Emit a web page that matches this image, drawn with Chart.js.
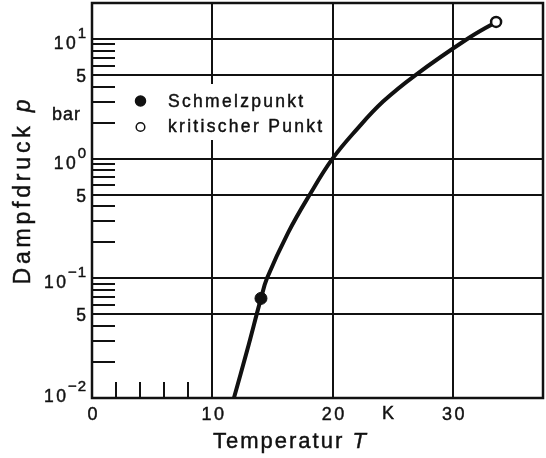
<!DOCTYPE html>
<html>
<head>
<meta charset="utf-8">
<script src="https://cdn.jsdelivr.net/npm/chart.js@4.4.0/dist/chart.umd.min.js"></script>
<style>
  html, body { margin: 0; padding: 0; background: #fff; }
  #wrap { width: 546px; height: 458px; }
</style>
</head>
<body>
<div id="wrap"><canvas id="dampfChart" width="546" height="458"></canvas></div>
<script>
// Dampfdruckkurve, Werte
const temperatur = [11.8, 12.9, 14.05, 14.55, 16.3, 18.1, 20.0, 22.0, 24.2, 26.9, 31.2, 33.6];
const dampfdruck = [0.01, 0.025, 0.068, 0.1, 0.24, 0.5, 1.0, 1.75, 3.0, 5.0, 10.0, 13.9];

const schmelzpunkt = { T: 14.05, p: 0.068 };
const kritischerPunkt = { T: 33.6, p: 13.9 };

// Achsen
const xTicks = [0, 10, 20, 30];
const xTickLabels = ["0", "10", "20", "30"];
const xMinorTicks = [2, 4, 6, 8];
const yTicks = [0.01, 0.05, 0.1, 0.5, 1, 5, 10];
const yTickLabels = [["10", "\u22122"], ["5", ""], ["10", "\u22121"], ["5", ""], ["10", "0"], ["5", ""], ["10", "1"]];
const yMinorTicks = [0.02, 0.03, 0.04, 0.06, 0.07, 0.08, 0.09,
                     0.2, 0.3, 0.4, 0.6, 0.7, 0.8, 0.9,
                     2, 3, 4, 6, 7, 8, 9];

const INK = "#111";
const FONT = "'Liberation Sans', Arial, sans-serif";

// text with letter spacing and a thin outline (medium weight), returns ink width
function drawText(ctx, str, x, y, font, spacing, align) {
    ctx.font = font;
    ctx.letterSpacing = spacing + "px";
    const w = ctx.measureText(str).width - spacing;
    let x0 = x;
    if (align === "right") x0 = x - w;
    if (align === "center") x0 = x - w / 2;
    ctx.textAlign = "left";
    ctx.fillText(str, x0, y);
    ctx.lineWidth = 0.45;
    ctx.strokeStyle = ctx.fillStyle;
    ctx.strokeText(str, x0, y);
    return w;
}

function measure(ctx, str, font, spacing) {
    ctx.font = font;
    ctx.letterSpacing = spacing + "px";
    return ctx.measureText(str).width;
}

// frame + inner minor ticks
const framePlugin = {
    id: "frame",
    beforeDatasetsDraw(chart) {
        const ctx = chart.ctx;
        const a = chart.chartArea;
        const xs = chart.scales.x, ys = chart.scales.y;
        ctx.save();
        ctx.strokeStyle = INK;
        ctx.lineWidth = 2;
        ctx.beginPath();
        yMinorTicks.forEach(v => {
            const py = Math.round(ys.getPixelForValue(v));
            ctx.moveTo(a.left, py);
            ctx.lineTo(a.left + 23, py);
        });
        xMinorTicks.forEach(v => {
            const px = Math.round(xs.getPixelForValue(v));
            ctx.moveTo(px, a.bottom);
            ctx.lineTo(px, a.bottom - 16);
        });
        ctx.stroke();
        ctx.lineWidth = 2.5;
        ctx.strokeRect(a.left, a.top, a.right - a.left, a.bottom - a.top);
        ctx.restore();
    }
};

// labels, titles, legend
const textPlugin = {
    id: "texts",
    afterDraw(chart) {
        const ctx = chart.ctx;
        const a = chart.chartArea;
        const xs = chart.scales.x, ys = chart.scales.y;
        ctx.save();
        ctx.fillStyle = INK;
        ctx.textBaseline = "alphabetic";

        // y tick labels
        const baseFont = "17.5px " + FONT;
        const supFont = "15px " + FONT;
        yTicks.forEach((v, i) => {
            const py = ys.getPixelForValue(v);
            const [base, sup] = yTickLabels[i];
            const right = a.left - 6;
            if (sup) {
                const low = (v === ys.min) ? -6 : 0;
                const sw = drawText(ctx, sup, right, py - 1 + low, supFont, 1, "right");
                drawText(ctx, base, right - sw - 2, py + 10 + low, baseFont, 2.5, "right");
            } else {
                drawText(ctx, base, right, py + 7, baseFont, 0, "right");
            }
        });

        // x tick labels
        xTicks.forEach((v, i) => {
            const px = xs.getPixelForValue(v);
            drawText(ctx, xTickLabels[i], px + 0.5, a.bottom + 22, "18px " + FONT, 2.5, "center");
        });

        // units
        drawText(ctx, "K", 388, a.bottom + 21, "18px " + FONT, 0, "center");
        drawText(ctx, "bar", 52, 120, "18px " + FONT, 1, "left");

        // x title
        const tFont = "22px " + FONT;
        const tItal = "italic 22px " + FONT;
        let x0 = 213;
        x0 += drawText(ctx, "Temperatur ", x0, 448, tFont, 2, "left") + 2;
        drawText(ctx, "T", x0, 448, tItal, 0, "left");

        // y title
        ctx.save();
        ctx.translate(30, 192);
        ctx.rotate(-Math.PI / 2);
        const yFont = "23px " + FONT;
        const yItal = "italic 23px " + FONT;
        const w1 = measure(ctx, "Dampfdruck ", yFont, 3.8);
        const w2 = measure(ctx, "p", yItal, 0);
        const start = -(w1 + w2) / 2;
        drawText(ctx, "Dampfdruck ", start, 0, yFont, 3.8, "left");
        drawText(ctx, "p", start + w1, 0, yItal, 0, "left");
        ctx.restore();

        // legend
        ctx.fillStyle = "#fff";
        ctx.fillRect(122, 84, 206, 56);
        const ds = chart.data.datasets;
        const rows = [[ds[1], 101, 107], [ds[2], 127, 132]];
        rows.forEach(([d, cy, base]) => {
            ctx.beginPath();
            ctx.arc(140.5, cy, d.pointBackgroundColor === "#fff" ? 4.3 : 5, 0, Math.PI * 2);
            ctx.fillStyle = d.pointBackgroundColor;
            ctx.fill();
            ctx.lineWidth = 1.5;
            ctx.strokeStyle = INK;
            ctx.stroke();
            ctx.fillStyle = INK;
            drawText(ctx, d.label, 168, base, "17.5px " + FONT, 2.3, "left");
        });
        ctx.restore();
    }
};

const curveData = temperatur.map((t, i) => ({ x: t, y: dampfdruck[i] }));

const dampfConfig = {
    type: "line",
    data: {
        datasets: [{
            label: "Dampfdruckkurve",
            data: curveData,
            borderColor: INK,
            borderWidth: 4,
            pointRadius: 0,
            tension: 0.4,
            fill: false,
            order: 2
        }, {
            label: "Schmelzpunkt",
            data: [{ x: schmelzpunkt.T, y: schmelzpunkt.p }],
            showLine: false,
            pointRadius: 6,
            pointBackgroundColor: INK,
            pointBorderColor: INK,
            pointBorderWidth: 1,
            order: 1
        }, {
            label: "kritischer Punkt",
            data: [{ x: kritischerPunkt.T, y: kritischerPunkt.p }],
            showLine: false,
            pointRadius: 5,
            pointBackgroundColor: "#fff",
            pointBorderColor: INK,
            pointBorderWidth: 2.5,
            order: 1
        }]
    },
    options: {
        responsive: false,
        animation: false,
        events: [],
        layout: { autoPadding: false, padding: { top: 3, right: 3, left: 0, bottom: 0 } },
        plugins: {
            legend: { display: false },
            tooltip: { enabled: false }
        },
        scales: {
            x: {
                type: "linear",
                min: 0,
                max: 37.5,
                afterBuildTicks: (s) => { s.ticks = xTicks.map(v => ({ value: v })); },
                afterFit: (s) => { s.height = 60; },
                ticks: { display: false },
                grid: { color: INK, lineWidth: 2, drawTicks: false },
                border: { display: false }
            },
            y: {
                type: "logarithmic",
                min: 0.01,
                max: 20,
                afterBuildTicks: (s) => { s.ticks = yTicks.map(v => ({ value: v })); },
                afterFit: (s) => { s.width = 92; },
                ticks: { display: false },
                grid: { color: INK, lineWidth: 2, drawTicks: false },
                border: { display: false }
            }
        }
    },
    plugins: [framePlugin, textPlugin]
};

let dampfChart = new Chart(document.getElementById("dampfChart"), dampfConfig);
</script>
</body>
</html>
